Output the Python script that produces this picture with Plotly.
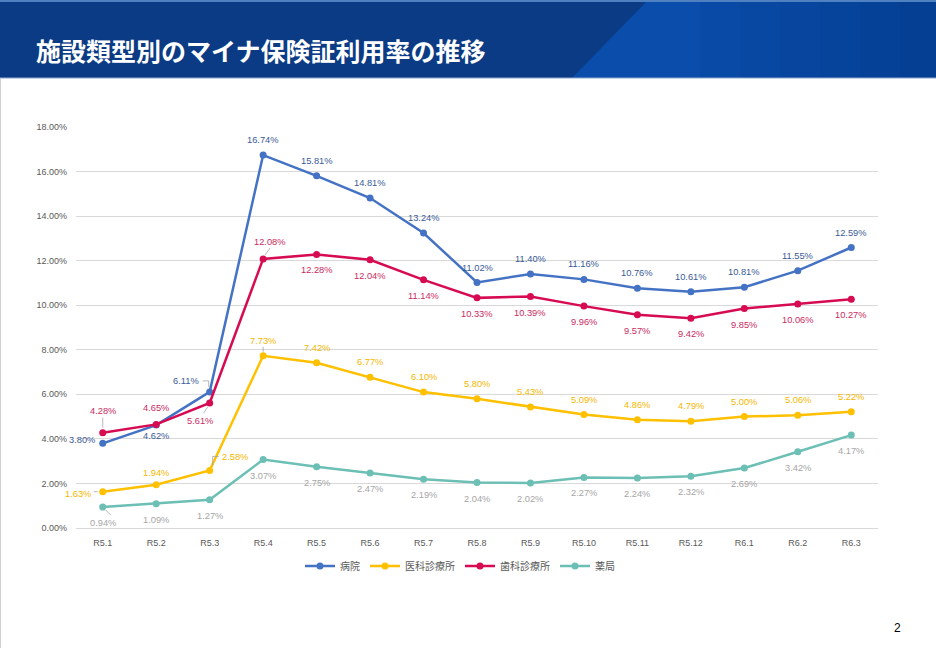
import plotly.graph_objects as go

# 月（令和）
months = ["R5.1", "R5.2", "R5.3", "R5.4", "R5.5", "R5.6", "R5.7", "R5.8",
          "R5.9", "R5.10", "R5.11", "R5.12", "R6.1", "R6.2", "R6.3"]

# 施設類型別の利用率 (%)
hospital = [3.80, 4.62, 6.11, 16.74, 15.81, 14.81, 13.24, 11.02,
            11.40, 11.16, 10.76, 10.61, 10.81, 11.55, 12.59]
medical_clinic = [1.63, 1.94, 2.58, 7.73, 7.42, 6.77, 6.10, 5.80,
                  5.43, 5.09, 4.86, 4.79, 5.00, 5.06, 5.22]
dental_clinic = [4.28, 4.65, 5.61, 12.08, 12.28, 12.04, 11.14, 10.33,
                 10.39, 9.96, 9.57, 9.42, 9.85, 10.06, 10.27]
pharmacy = [0.94, 1.09, 1.27, 3.07, 2.75, 2.47, 2.19, 2.04,
            2.02, 2.27, 2.24, 2.32, 2.69, 3.42, 4.17]

W, H = 936, 648
L, R, T, B = 76, 58, 127, 120
PW, PH = W - L - R, H - T - B


def px(x):
    return (x - L) / PW


def py(y):
    return (H - B - y) / PH


label_font = "Liberation Sans, Arial, sans-serif"
jp_font = "Noto Sans CJK JP, sans-serif"

# label offsets (xshift, yshift) per point
up, down = (0, 15), (0, -16)
series = [
    ("病院", hospital, "#4472C4", "#3A5A96",
     [(-21, 3), (0, -11), (-24, 11)] + [up] * 12),
    ("医科診療所", medical_clinic, "#FFC000", "#F5B700",
     [(-25, -2), (0, 12), (25, 14)] + [up] * 12),
    ("歯科診療所", dental_clinic, "#D60B52", "#CC2A62",
     [(0, 22), (0, 16), (-10, -18), (7, 17)] + [down] * 11),
    ("薬局", pharmacy, "#6CBFB4", "#A6A6A6", [down] * 15),
]

# leader lines: (series index, point index, x0, y0, x1, y1) in pixels from the point
leaders = [
    (0, 2, -7, 11, -1, 11), (0, 2, -1, 11, -1, 5),
    (1, 0, -9, 0, -5, 0),
    (1, 2, 3, 14, 9, 14), (1, 2, 3, 14, 3, 5),
    (1, 3, 0, 4, 0, 9),
    (2, 0, 0, 5, 0, 15),
    (2, 2, -2, -4, -6, -10),
    (2, 3, 2, 4, 7, 11),
    (3, 0, 3, -3, 8, -8),
]

fig = go.Figure()
annotations = []
for name, vals, color, tcolor, offs in series:
    fig.add_trace(go.Scatter(
        x=months, y=vals, name=name,
        mode="lines+markers",
        line=dict(color=color, width=2.5),
        marker=dict(color=color, size=7),
        hoverinfo="skip",
    ))
    for m, v, (dx, dy) in zip(months, vals, offs):
        annotations.append(dict(
            x=m, y=v, xref="x", yref="y", text=f"{v:.2f}%", showarrow=False,
            xshift=dx, yshift=dy, xanchor="center", yanchor="middle",
            font=dict(size=9.3, color=tcolor, family=label_font)))

shapes = [
    # header band
    dict(type="rect", xref="paper", yref="paper", x0=px(0), x1=px(W), y0=py(78), y1=py(0),
         fillcolor="#0B3B84", line=dict(width=0), layer="below"),
    dict(type="path", xref="paper", yref="paper",
         path=f"M {px(648)},{py(0)} L {px(W)},{py(0)} L {px(W)},{py(78)} L {px(572)},{py(78)} Z",
         fillcolor="#0A4DAA", line=dict(width=0), layer="below"),
]
# darkening toward the right side of the header
for i in range(6):
    x0 = 700 + i * 40
    shapes.append(dict(type="rect", xref="paper", yref="paper",
                       x0=px(x0), x1=px(W), y0=py(78), y1=py(0),
                       fillcolor="#062F75", opacity=0.07, line=dict(width=0), layer="below"))
shapes += [
    dict(type="rect", xref="paper", yref="paper", x0=px(0), x1=px(W), y0=py(2), y1=py(0),
         fillcolor="#4F80C0", line=dict(width=0), layer="below"),
    dict(type="line", xref="paper", yref="paper", x0=px(0), x1=px(W), y0=py(78), y1=py(78),
         line=dict(color="#8FA9CF", width=1), layer="below"),
    dict(type="line", xref="paper", yref="paper", x0=px(0.5), x1=px(0.5), y0=py(648), y1=py(78),
         line=dict(color="#D0D0D0", width=1), layer="below"),
]
for si, pi, x0, y0, x1, y1 in leaders:
    shapes.append(dict(type="line", xref="x", yref="y",
                       xsizemode="pixel", ysizemode="pixel",
                       xanchor=months[pi], yanchor=series[si][1][pi],
                       x0=x0, y0=y0, x1=x1, y1=y1,
                       line=dict(color="#A6A6A6", width=0.8)))

annotations += [
    dict(text="<b>施設類型別のマイナ保険証利用率の推移</b>", xref="paper", yref="paper",
         x=px(34), y=py(50), xanchor="left", yanchor="middle", showarrow=False,
         font=dict(size=25, color="white", family=jp_font)),
    dict(text="2", xref="paper", yref="paper", x=px(903), y=py(628),
         xanchor="right", yanchor="middle", showarrow=False,
         font=dict(size=12, color="#000000", family=label_font)),
]

fig.update_layout(
    width=W, height=H,
    margin=dict(l=L, r=R, t=T, b=B),
    paper_bgcolor="white", plot_bgcolor="white",
    showlegend=True,
    legend=dict(orientation="h", x=px(460), xanchor="center", y=py(566), yanchor="middle",
                font=dict(size=10, color="#595959", family=jp_font),
                itemwidth=30, tracegroupgap=0),
    shapes=shapes,
    annotations=annotations,
)
fig.update_xaxes(type="category", range=[-0.5, len(months) - 0.5],
                 showgrid=False, showline=True, linecolor="#D9D9D9",
                 ticks="", ticklabelstandoff=6,
                 tickfont=dict(size=9, color="#595959", family=label_font))
fig.update_yaxes(range=[0, 18], dtick=2, tickformat=".2f", ticksuffix="%",
                 showgrid=True, gridcolor="#D9D9D9", zeroline=False, showline=False,
                 tickfont=dict(size=9, color="#595959", family=label_font), ticklabelstandoff=8)

fig.write_html("out.html", config={"displayModeBar": False},
               post_script="document.body.style.margin='0';")
